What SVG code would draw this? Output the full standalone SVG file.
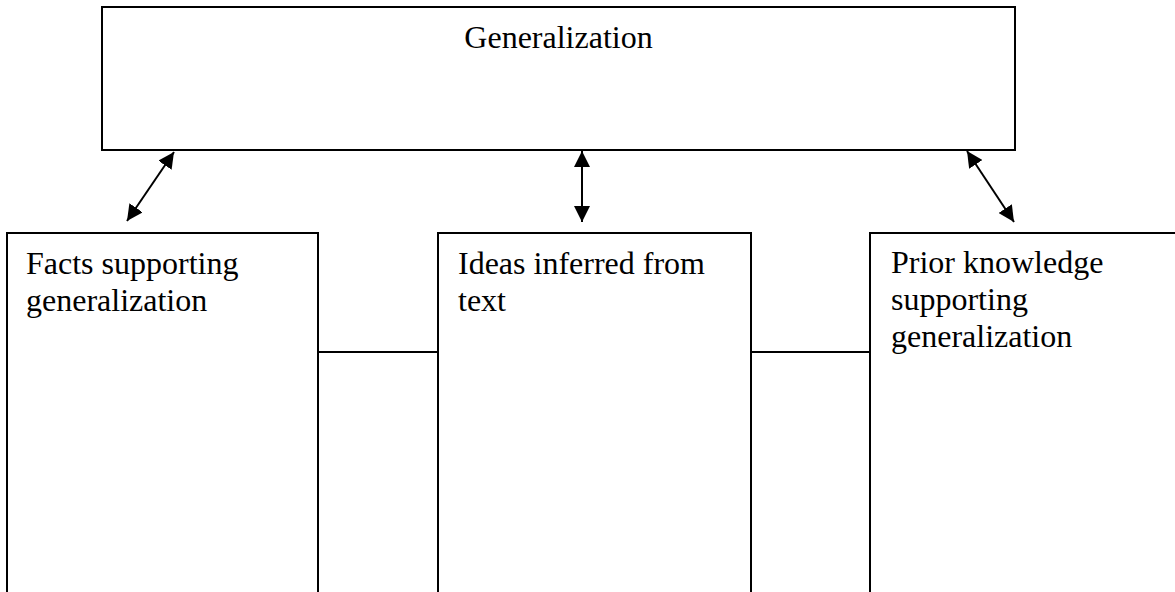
<svg xmlns="http://www.w3.org/2000/svg" width="1175" height="592" viewBox="0 0 1175 592">
<style>
.box{fill:#fff;stroke:#000;stroke-width:2}
.lbl{font-family:"Liberation Serif","Times New Roman",serif;font-size:32px;fill:#000}
.conn{stroke:#000;stroke-width:2;fill:none}
.arr{stroke:#000;stroke-width:2;fill:none;marker-start:url(#ah);marker-end:url(#ah)}
</style>
<defs>
<marker id="ah" markerUnits="userSpaceOnUse" markerWidth="16" markerHeight="16" viewBox="0 0 16 16" refX="16" refY="8" orient="auto-start-reverse">
<path d="M0,0 L16,8 L0,16 Z" fill="#000"/>
</marker>
</defs>
<rect width="1175" height="592" fill="#fff"/>
<g id="connectors">
<line class="conn" x1="318" y1="352" x2="438" y2="352"/>
<line class="conn" x1="751" y1="352" x2="870" y2="352"/>
<line class="arr" x1="174" y1="152" x2="127" y2="221"/>
<line class="arr" x1="582" y1="151" x2="582" y2="222"/>
<line class="arr" x1="967" y1="151" x2="1014" y2="222"/>
</g>
<g id="generalization">
<rect class="box" x="102" y="7" width="913" height="143"/>
<text class="lbl" x="558.5" y="48" text-anchor="middle">Generalization</text>
</g>
<g id="facts">
<rect class="box" x="7" y="233" width="311" height="380"/>
<text class="lbl" x="26" y="274">Facts supporting</text>
<text class="lbl" x="26" y="311">generalization</text>
</g>
<g id="ideas">
<rect class="box" x="438" y="233" width="313" height="380"/>
<text class="lbl" x="458" y="274">Ideas inferred from</text>
<text class="lbl" x="458" y="311">text</text>
</g>
<g id="prior">
<rect class="box" x="870" y="233" width="330" height="380"/>
<text class="lbl" x="891" y="273">Prior knowledge</text>
<text class="lbl" x="891" y="310">supporting</text>
<text class="lbl" x="891" y="347">generalization</text>
</g>
</svg>
